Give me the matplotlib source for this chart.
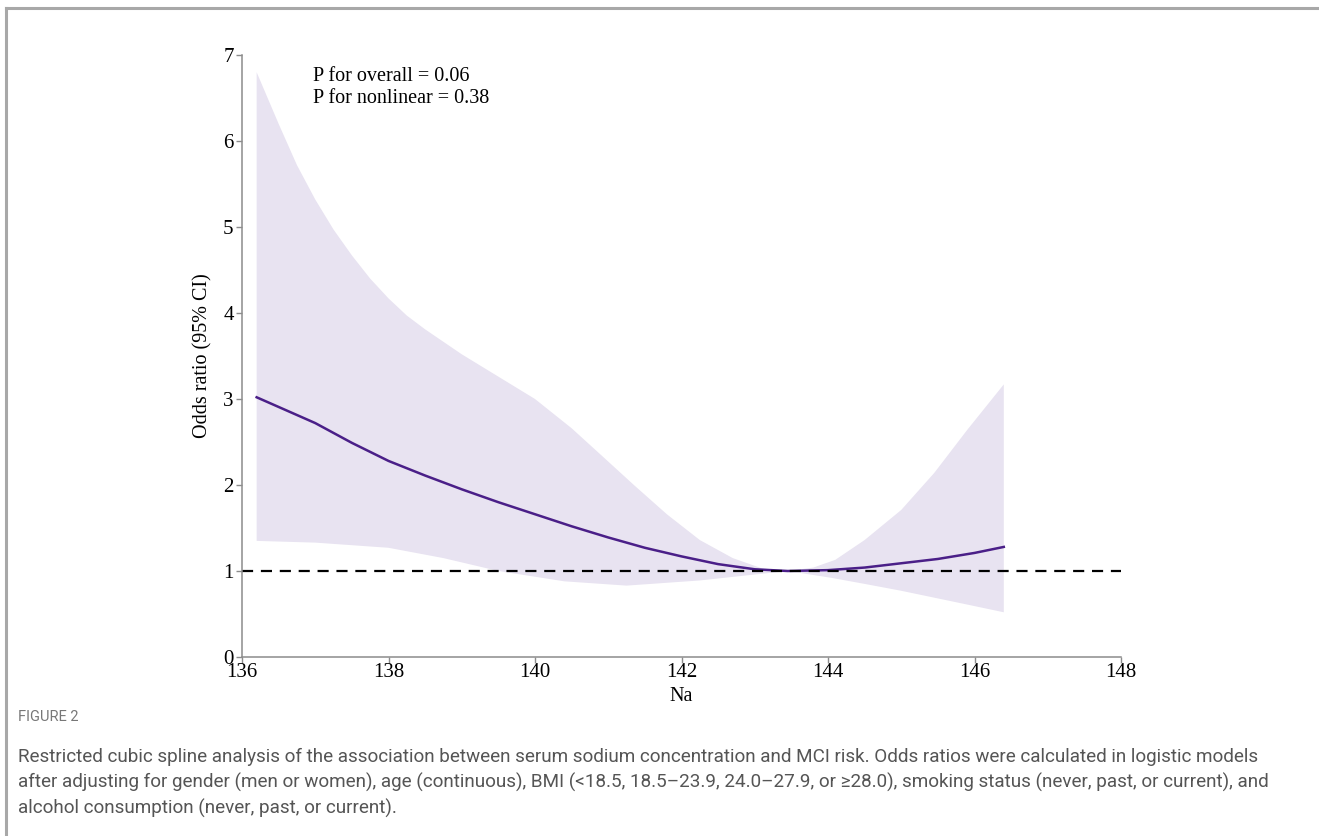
import matplotlib.pyplot as plt
from matplotlib.lines import Line2D

# restricted cubic spline readout (Na vs odds ratio)
na_fit = [136.2, 136.6, 137.0, 137.5, 138.0, 138.5, 139.0, 139.5, 140.0, 140.5,
          141.0, 141.5, 142.0, 142.5, 143.0, 143.45, 144.0, 144.5, 145.0, 145.5,
          146.0, 146.4]
or_fit = [3.02, 2.87, 2.72, 2.49, 2.28, 2.11, 1.95, 1.80, 1.66, 1.52,
          1.39, 1.27, 1.17, 1.08, 1.02, 1.00, 1.01, 1.04, 1.09, 1.14,
          1.21, 1.28]

na_upper = [136.2, 136.35, 136.5, 136.75, 137.0, 137.25, 137.5, 137.75, 138.0, 138.25,
            138.5, 139.0, 139.5, 140.0, 140.5, 140.9, 141.35, 141.8, 142.25, 142.7,
            143.1, 143.45, 143.8, 144.1, 144.5, 145.0, 145.45, 145.9, 146.4]
or_upper = [6.80, 6.50, 6.20, 5.72, 5.32, 4.97, 4.67, 4.40, 4.17, 3.97,
            3.81, 3.52, 3.26, 3.00, 2.66, 2.35, 2.00, 1.66, 1.36, 1.15,
            1.03, 1.00, 1.04, 1.13, 1.36, 1.71, 2.14, 2.64, 3.17]

na_lower = [136.2, 137.0, 138.0, 138.75, 139.5, 140.4, 141.25, 142.25, 142.9, 143.45,
            144.05, 144.5, 145.0, 145.45, 145.9, 146.4]
or_lower = [1.35, 1.33, 1.27, 1.15, 1.00, 0.88, 0.83, 0.89, 0.95, 1.00,
            0.92, 0.85, 0.77, 0.69, 0.61, 0.52]

x_ticks = [136, 138, 140, 142, 144, 146, 148]
y_ticks = [0, 1, 2, 3, 4, 5, 6, 7]

caption_title = "FIGURE 2"
caption_lines = [
    "Restricted cubic spline analysis of the association between serum sodium concentration and MCI risk. Odds ratios were calculated in logistic models",
    "after adjusting for gender (men or women), age (continuous), BMI (<18.5, 18.5\u201323.9, 24.0\u201327.9, or \u226528.0), smoking status (never, past, or current), and",
    "alcohol consumption (never, past, or current).",
]

serif = ['Liberation Serif', 'DejaVu Serif']
sans = ['Roboto', 'DejaVu Sans']

fig = plt.figure(figsize=(13.19, 8.36), dpi=100)
ax = fig.add_axes([242 / 1319, 1 - 657 / 836, 879 / 1319, 602 / 836])

# band: closed polygon, upper edge then lower edge reversed
poly_x = na_upper + na_lower[::-1]
poly_y = or_upper + or_lower[::-1]
ax.fill(poly_x, poly_y, color='#e8e3f1', lw=0)
ax.plot(na_fit, or_fit, color='#4a1f88', lw=1.8)
ax.plot([136, 148], [1, 1], color='black', lw=1.6, ls=(0, (5, 3.5)))

ax.set_xlim(136, 148)
ax.set_ylim(0, 7)
ax.set_xticks(x_ticks)
ax.set_yticks(y_ticks)
for s in ['top', 'right']:
    ax.spines[s].set_visible(False)
for s in ['left', 'bottom']:
    ax.spines[s].set_color('#8c8c8c')
    ax.spines[s].set_linewidth(1.1)
ax.tick_params(direction='out', length=4, width=1, color='#8c8c8c',
               labelsize=15)
ax.tick_params(axis='x', pad=0)
ax.tick_params(axis='y', pad=2)
for lab in ax.get_xticklabels() + ax.get_yticklabels():
    lab.set_family(serif)
ax.set_xlabel('Na', family=serif, fontsize=14.5, labelpad=4)
ax.set_ylabel('Odds ratio (95% CI)', family=serif, fontsize=14.5, labelpad=8)

ax.text(136.97, 6.86, 'P for overall = 0.06\nP for nonlinear = 0.38',
        family=serif, fontsize=14.5, va='top', ha='left', linespacing=1.2)

# page frame
fig.add_artist(Line2D([6 / 1319, 1], [1 - 8 / 836, 1 - 8 / 836], color='#a8a8a8', lw=2.2))
fig.add_artist(Line2D([6 / 1319, 6 / 1319], [0, 1 - 8 / 836], color='#a8a8a8', lw=2.2))

fig.text(18 / 1319, 1 - 717 / 836, caption_title, family=sans, fontsize=10.5,
         color='#777777', va='center')
for i, line in enumerate(caption_lines):
    fig.text(18 / 1319, 1 - (757 + 25.5 * i) / 836, line, family=sans,
             fontsize=13.6, color='#555555', va='center')

fig.savefig('out.png', dpi=100)
